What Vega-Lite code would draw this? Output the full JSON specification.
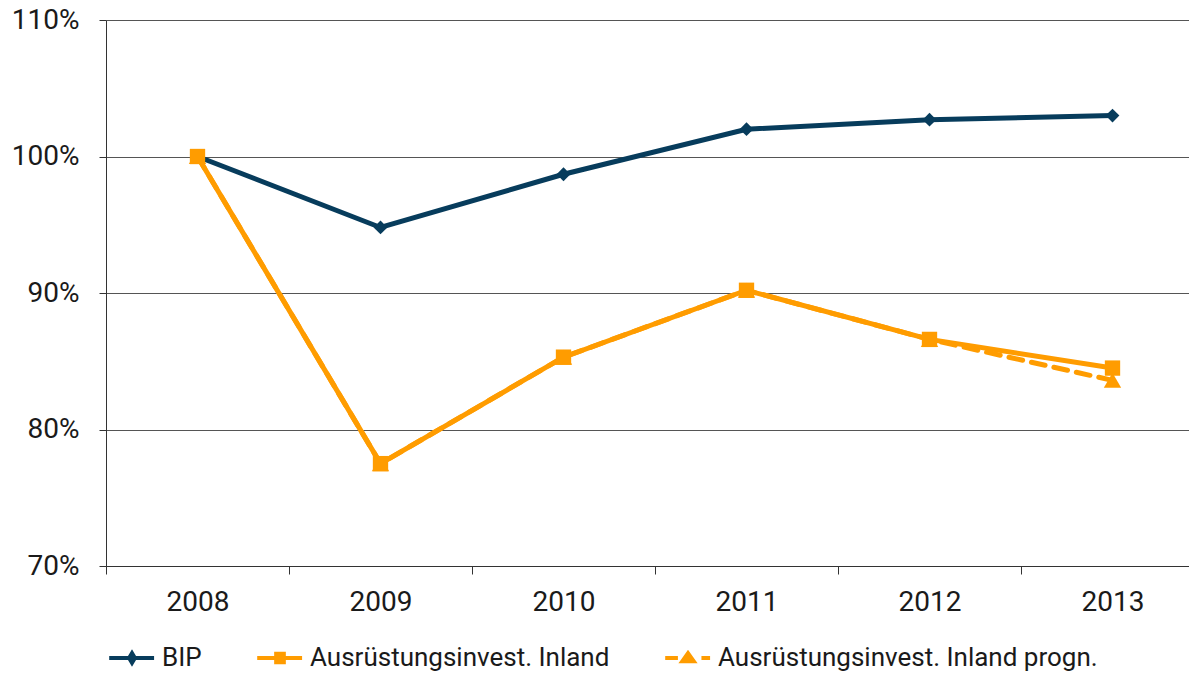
{
  "$schema": "https://vega.github.io/schema/vega-lite/v6.json",
  "width": 1098,
  "height": 546,
  "autosize": "none",
  "padding": {"left": 106, "top": 20, "right": 0, "bottom": 108},
  "background": "white",
  "config": {
    "view": {"stroke": null},
    "font": "Roboto",
    "axis": {"labelFont": "Roboto", "labelColor": "#1a1a1a", "labelFontSize": 28, "titleFontSize": 0},
    "legend": {"labelFont": "Roboto", "labelColor": "#1a1a1a", "labelFontSize": 26, "labelLimit": 0}
  },
  "data": {
    "values": [
      {"year": "2008", "series": "BIP", "value": 100.0},
      {"year": "2009", "series": "BIP", "value": 94.8},
      {"year": "2010", "series": "BIP", "value": 98.7},
      {"year": "2011", "series": "BIP", "value": 102.0},
      {"year": "2012", "series": "BIP", "value": 102.7},
      {"year": "2013", "series": "BIP", "value": 103.0},
      {"year": "2008", "series": "Ausrüstungsinvest. Inland progn.", "value": 100.0},
      {"year": "2009", "series": "Ausrüstungsinvest. Inland progn.", "value": 77.5},
      {"year": "2010", "series": "Ausrüstungsinvest. Inland progn.", "value": 85.3},
      {"year": "2011", "series": "Ausrüstungsinvest. Inland progn.", "value": 90.2},
      {"year": "2012", "series": "Ausrüstungsinvest. Inland progn.", "value": 86.6},
      {"year": "2013", "series": "Ausrüstungsinvest. Inland progn.", "value": 83.6},
      {"year": "2008", "series": "Ausrüstungsinvest. Inland", "value": 100.0},
      {"year": "2009", "series": "Ausrüstungsinvest. Inland", "value": 77.5},
      {"year": "2010", "series": "Ausrüstungsinvest. Inland", "value": 85.3},
      {"year": "2011", "series": "Ausrüstungsinvest. Inland", "value": 90.2},
      {"year": "2012", "series": "Ausrüstungsinvest. Inland", "value": 86.6},
      {"year": "2013", "series": "Ausrüstungsinvest. Inland", "value": 84.5}
    ]
  },
  "encoding": {
    "x": {
      "field": "year", "type": "ordinal", "bandPosition": 0.5,
      "scale": {"type": "band", "paddingInner": 0, "paddingOuter": 0},
      "axis": {"title": null, "labelAngle": 0, "tickBand": "extent", "tickSize": 8, "tickColor": "#333", "domainColor": "#333", "labelPadding": 14, "grid": false}
    },
    "y": {
      "field": "value", "type": "quantitative",
      "scale": {"domain": [70, 110], "nice": false, "zero": false},
      "axis": {"title": null, "values": [70, 80, 90, 100, 110], "labelExpr": "datum.value + '%'", "tickSize": 7, "tickColor": "#333", "domainColor": "#333", "gridColor": "#555", "labelPadding": 20}
    }
  },
  "layer": [
    {
      "transform": [{"filter": "datum.series === 'BIP'"}],
      "mark": {"type": "line", "color": "#073c5c", "strokeWidth": 5}
    },
    {
      "transform": [{"filter": "datum.series === 'Ausrüstungsinvest. Inland progn.'"}],
      "mark": {"type": "line", "color": "#ff9c00", "strokeWidth": 5, "strokeDash": [14, 9], "strokeCap": "round"}
    },
    {
      "transform": [{"filter": "datum.series === 'Ausrüstungsinvest. Inland'"}],
      "mark": {"type": "line", "color": "#ff9c00", "strokeWidth": 5}
    },
    {
      "transform": [{"filter": "datum.series === 'BIP'"}],
      "mark": {"type": "point", "filled": true, "opacity": 1, "shape": "diamond", "size": 190, "color": "#073c5c"}
    },
    {
      "transform": [{"filter": "datum.series === 'Ausrüstungsinvest. Inland progn.'"}],
      "mark": {"type": "point", "filled": true, "opacity": 1, "shape": "triangle-up", "size": 300, "color": "#ff9c00"}
    },
    {
      "transform": [{"filter": "datum.series === 'Ausrüstungsinvest. Inland'"}],
      "mark": {"type": "point", "filled": true, "opacity": 1, "shape": "square", "size": 235, "color": "#ff9c00"}
    },
    {
      "mark": {"type": "point", "filled": true, "opacity": 0, "size": 1},
      "encoding": {
        "color": {
          "field": "series", "type": "nominal",
          "scale": {"domain": ["BIP", "Ausrüstungsinvest. Inland", "Ausrüstungsinvest. Inland progn."], "range": ["#073c5c", "#ff9c00", "#ff9c00"]},
          "legend": {
            "title": null, "orient": "bottom", "direction": "horizontal", "offset": 16,
            "columnPadding": 47, "labelOffset": 4, "symbolSize": 2304, "padding": 0, "symbolStrokeWidth": 4, "symbolOpacity": 1
          }
        },
        "shape": {
          "field": "series", "type": "nominal",
          "scale": {"domain": ["BIP", "Ausrüstungsinvest. Inland", "Ausrüstungsinvest. Inland progn."],
            "range": ["M-0.95,0H0.92M-0.12,0L0,-0.2L0.12,0L0,0.2Z", "M-0.95,0H0.92M-0.16,-0.18H0.16V0.18H-0.16Z", "M-0.95,0H-0.42M0.56,0H0.92M-0.24,0.14L0,-0.2L0.24,0.14Z"]},
          "legend": {
            "title": null, "orient": "bottom", "direction": "horizontal", "offset": 16,
            "columnPadding": 47, "labelOffset": 4, "symbolSize": 2304, "padding": 0, "symbolStrokeWidth": 4, "symbolOpacity": 1
          }
        },
        "stroke": {
          "field": "series", "type": "nominal",
          "scale": {"domain": ["BIP", "Ausrüstungsinvest. Inland", "Ausrüstungsinvest. Inland progn."], "range": ["#073c5c", "#ff9c00", "#ff9c00"]},
          "legend": {
            "title": null, "orient": "bottom", "direction": "horizontal", "offset": 16,
            "columnPadding": 47, "labelOffset": 4, "symbolSize": 2304, "padding": 0, "symbolStrokeWidth": 4, "symbolOpacity": 1
          }
        }
      }
    }
  ]
}
